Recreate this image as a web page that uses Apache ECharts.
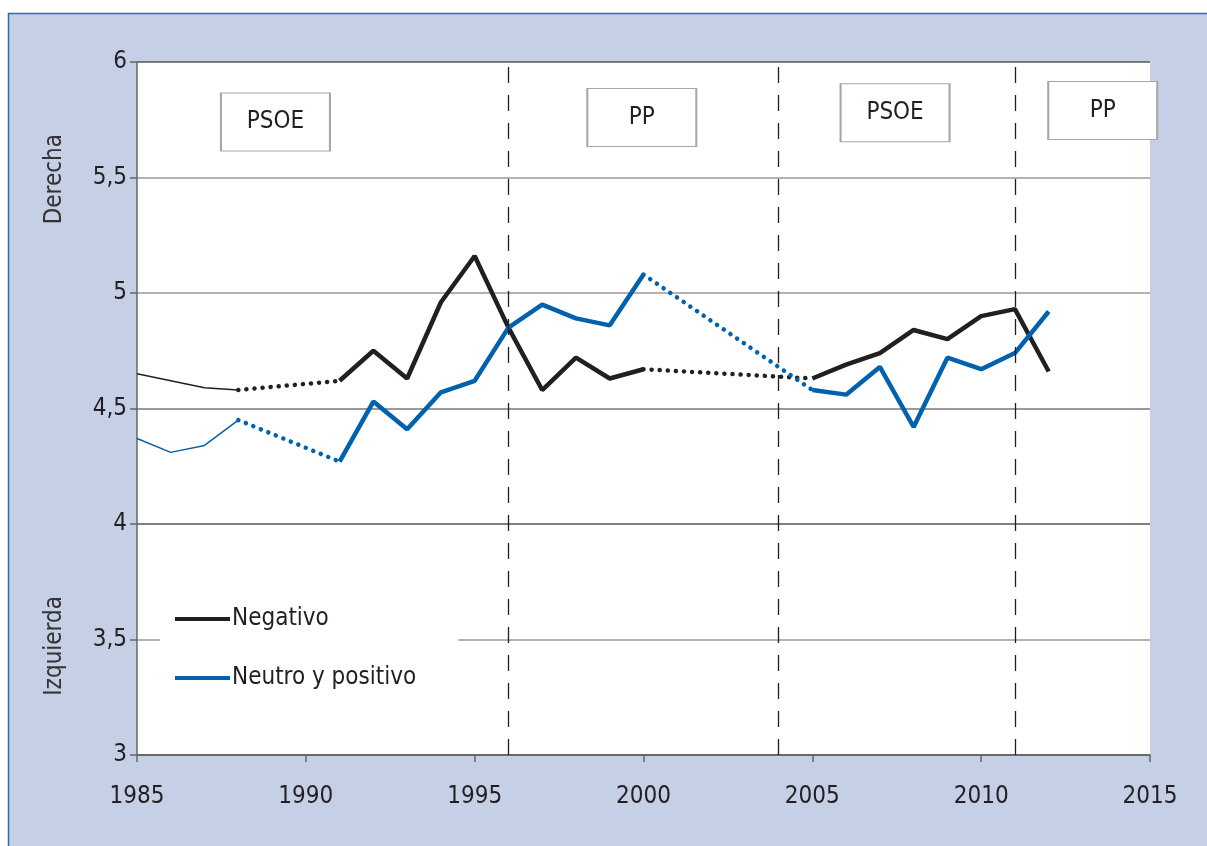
<!DOCTYPE html>
<html>
<head>
<meta charset="utf-8">
<script src="https://cdn.jsdelivr.net/npm/echarts@6/dist/echarts.min.js"></script>
<style>
  html, body { margin: 0; padding: 0; background: #fff; }
  #chart { width: 1207px; height: 846px; }
</style>
</head>
<body>
<div id="chart"></div>
<script>
// datos
const years = [1985, 1986, 1987, 1988, 1991, 1992, 1993, 1994, 1995, 1996, 1997, 1998, 1999, 2000, 2005, 2006, 2007, 2008, 2009, 2010, 2011, 2012]
const negativo = [4.65, 4.62, 4.59, 4.58, 4.62, 4.75, 4.63, 4.96, 5.16, 4.85, 4.58, 4.72, 4.63, 4.67, 4.63, 4.69, 4.74, 4.84, 4.80, 4.90, 4.93, 4.66]
const neutro = [4.37, 4.31, 4.34, 4.45, 4.27, 4.53, 4.41, 4.57, 4.62, 4.85, 4.95, 4.89, 4.86, 5.08, 4.58, 4.56, 4.68, 4.42, 4.72, 4.67, 4.74, 4.92]
const governments = ['PSOE', 'PP', 'PSOE', 'PP']
const govLabelX = [1989.1, 1999.95, 2007.45, 2013.6]
const govLabelY = [5.74, 5.76, 5.78, 5.79]
const changeYears = [1996, 2004, 2011]
const yTicks = ['3', '3,5', '4', '4,5', '5', '5,5', '6']

const fontFam = '"Liberation Sans Narrow", "DejaVu Sans Condensed", "Liberation Sans", sans-serif'
const black = '#231f20'
const blue = '#0062ae'

// tramos: [inicio, fin, estilo]
const segments = [
    [0, 3, 'thin'],
    [3, 4, 'dot'],
    [4, 13, 'thick'],
    [13, 14, 'dot'],
    [14, 21, 'thick']
]

function lineStyleFor(kind, color) {
    if (kind === 'thin') return { color: color, width: 1.5 }
    if (kind === 'dot') return { color: color, width: 4.5, type: [0.1, 8], cap: 'round' }
    return { color: color, width: 4.5 }
}

let series = []
;[['Negativo', negativo, black], ['Neutro y positivo', neutro, blue]].forEach(([name, vals, color]) => {
    segments.forEach(([a, b, kind]) => {
        let pts = []
        for (let i = a; i <= b; i++) pts.push([years[i], vals[i]])
        series.push({
            name: name,
            type: 'line',
            data: pts,
            symbol: 'none',
            silent: true,
            z: kind === 'dot' ? 3 : 4,
            lineStyle: lineStyleFor(kind, color)
        })
    })
})

// cajas de gobierno y lineas de cambio
series.push({
    type: 'line',
    data: [],
    silent: true,
    markLine: {
        symbol: ['none', 'none'],
        label: { show: false },
        lineStyle: { color: black, width: 1.3, type: [16, 12] },
        data: changeYears.map(y => ({ xAxis: y }))
    },
    markPoint: {
        symbol: 'rect',
        symbolSize: [109, 58],
        itemStyle: { color: '#fff', borderColor: '#a6a6a6', borderWidth: 1.5 },
        label: { show: true, color: black, fontSize: 24, fontFamily: fontFam },
        data: governments.map((g, i) => ({ coord: [govLabelX[i], govLabelY[i]], value: g, label: { formatter: g } }))
    },
    z: 5
})

let myCharts = echarts.init(document.getElementById('chart'))
let option = {
    animation: false,
    backgroundColor: '#fff',
    graphic: [
        {
            type: 'rect',
            z: -10,
            shape: { x: 8.5, y: 13.5, width: 1400, height: 1000 },
            style: { fill: '#c5d0e7', stroke: '#2a6bb3', lineWidth: 1.5 }
        },
        {
            type: 'text',
            left: 43,
            top: 134,
            rotation: Math.PI / 2,
            style: { text: 'Derecha', fill: '#333', fontSize: 24, fontFamily: fontFam }
        },
        {
            type: 'text',
            left: 43,
            top: 596,
            rotation: Math.PI / 2,
            style: { text: 'Izquierda', fill: '#333', fontSize: 24, fontFamily: fontFam }
        }
    ],
    grid: {
        left: 137,
        right: 57,
        top: 62,
        bottom: 91,
        show: true,
        backgroundColor: '#fff',
        borderWidth: 0
    },
    legend: {
        left: 160,
        top: 599,
        orient: 'vertical',
        backgroundColor: '#fff',
        padding: [8, 42, 8, 15],
        itemGap: 35,
        icon: 'rect',
        itemWidth: 55,
        itemHeight: 4,
        textStyle: { color: black, fontSize: 24, fontFamily: fontFam, padding: [0, 0, 0, -3] },
        data: [
            { name: 'Negativo', itemStyle: { color: black } },
            { name: 'Neutro y positivo', itemStyle: { color: blue } }
        ]
    },
    xAxis: {
        type: 'value',
        min: 1985,
        max: 2015,
        interval: 5,
        axisLine: { onZero: false, lineStyle: { color: '#666', width: 1.5 } },
        axisTick: { show: true, length: 7, lineStyle: { color: '#666', width: 1.5 } },
        axisLabel: { color: black, fontSize: 24, fontFamily: fontFam, margin: 30, formatter: v => String(v) },
        splitLine: { show: false }
    },
    yAxis: {
        type: 'value',
        min: 3,
        max: 6,
        interval: 0.5,
        axisLine: { show: true, lineStyle: { color: '#666', width: 1.5 } },
        axisTick: { show: true, length: 7, lineStyle: { color: '#666', width: 1.5 } },
        axisLabel: {
            color: black, fontSize: 24, fontFamily: fontFam, margin: 10,
            formatter: v => yTicks[Math.round((v - 3) * 2)]
        },
        splitLine: { show: true, lineStyle: { color: ['#555', '#999', '#555', '#777', '#999', '#999', '#555'], width: 1.5 } }
    },
    series: series
}
myCharts.setOption(option)
</script>
</body>
</html>
